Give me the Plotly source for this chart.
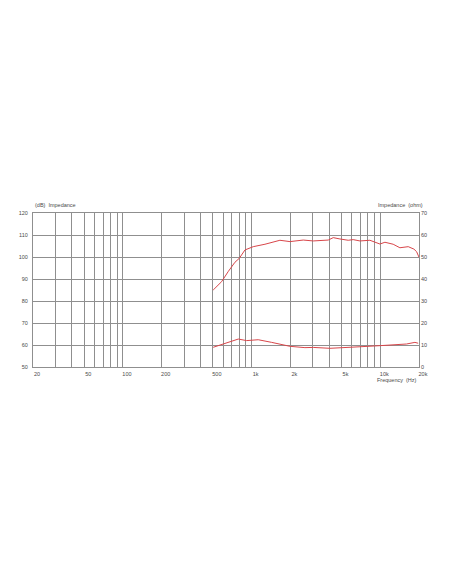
import plotly.graph_objects as go

# SPL curve (left axis, dB)
spl_freq = [503, 585, 660, 742, 802, 888, 1030, 1270, 1660, 1986, 2520, 3013,
             3942, 4311, 4855, 5636, 6160, 6950, 8310, 9940, 10870, 12600,
             14210, 16490, 18250, 19170, 20000]
spl_db = [85.0, 88.8, 93.5, 97.6, 99.4, 103.2, 104.7, 105.8, 107.6, 107.0, 107.7, 107.3,
          107.7, 108.8, 108.2, 107.6, 107.9, 107.3, 107.6, 105.9, 106.7, 105.8,
          104.2, 104.7, 103.6, 102.4, 99.9]

# impedance curve (right axis, ohm)
imp_freq = [503, 621, 788, 915, 1126, 1431, 1986, 2597, 3013, 4063, 5152,
            6950, 9940, 12600, 16000, 18600, 19700]
imp_ohm = [8.95, 10.8, 12.7, 12.0, 12.4, 11.2, 9.4, 8.8, 8.9, 8.5, 8.95,
           9.2, 9.7, 10.0, 10.45, 11.2, 10.8]

x_labels = {20: '20', 50: '50', 100: '100', 200: '200', 500: '500',
            1000: '1k', 2000: '2k', 5000: '5k', 10000: '10k', 20000: '20k'}
x_grid = [m * d for d in (10, 100, 1000, 10000) for m in range(1, 10)]
x_grid = [v for v in x_grid if 20 <= v <= 20000]
x_text = [x_labels.get(v, '') for v in x_grid]

red = '#d8464a'
grey = '#8f8f8f'
txt = '#4a4a4a'
fnt = dict(family='Liberation Sans, Arial, sans-serif', size=5.5, color=txt)

fig = go.Figure()
fig.add_trace(go.Scatter(x=spl_freq, y=spl_db, mode='lines',
                         line=dict(color=red, width=1), yaxis='y'))
fig.add_trace(go.Scatter(x=imp_freq, y=imp_ohm, mode='lines',
                         line=dict(color=red, width=1), yaxis='y2'))

fig.update_layout(
    width=452, height=584,
    margin=dict(l=25, r=41, t=205, b=225),
    paper_bgcolor='white', plot_bgcolor='white',
    showlegend=False,
    font=fnt,
    xaxis=dict(type='log', range=[1.30103, 4.30103],
               tickvals=x_grid, ticktext=x_text, tickangle=0,
               ticklabelshift=4, ticklabelstandoff=1,
               showgrid=True, gridcolor=grey, gridwidth=1,
               showline=True, linecolor=grey, mirror=True,
               ticks='', tickfont=fnt, zeroline=False),
    yaxis=dict(range=[50, 120], tickvals=list(range(50, 121, 10)),
               ticklabelstandoff=3,
               showgrid=True, gridcolor=grey, gridwidth=1,
               showline=True, linecolor=grey, mirror=True,
               ticks='', tickfont=fnt, zeroline=False),
    yaxis2=dict(range=[0, 70], tickvals=list(range(0, 71, 10)),
                overlaying='y', side='right', showgrid=False,
                ticklabelstandoff=1,
                ticks='', tickfont=fnt, zeroline=False),
    annotations=[
        dict(text='(dB)  Impedance', x=0, y=1, xref='paper', yref='paper',
             xanchor='left', yanchor='bottom', yshift=3, showarrow=False, font=fnt),
        dict(text='Impedance  (ohm)', x=1, y=1, xref='paper', yref='paper',
             xanchor='right', yanchor='bottom', xshift=6, yshift=3,
             showarrow=False, font=fnt),
        dict(text='Frequency  (Hz)', x=1, y=0, xref='paper', yref='paper',
             xanchor='right', yanchor='top', yshift=-8, showarrow=False, font=fnt),
    ],
)

fig.write_html("out.html")
